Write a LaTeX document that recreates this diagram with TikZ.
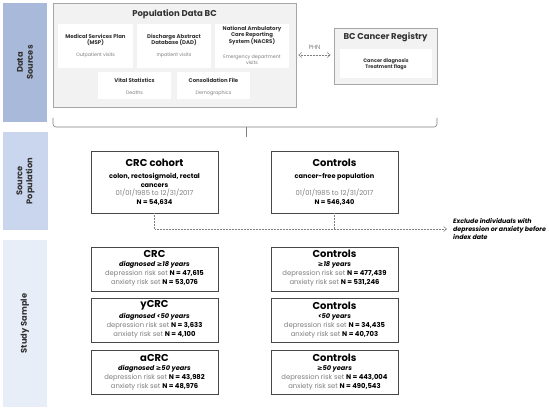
\documentclass[tikz,border=0pt]{standalone}
\usepackage{fontspec}
\setmainfont{Poppins}
\newfontfamily\symf{DejaVu Sans}
\usetikzlibrary{arrows.meta,calc}
\newcommand{\sge}{{\symf ≥}}
\definecolor{bandA}{HTML}{A9B9D9}
\definecolor{bandB}{HTML}{CAD6EE}
\definecolor{bandC}{HTML}{E8EEF8}
\definecolor{graytxt}{HTML}{7F7F7F}
\definecolor{boxgray}{HTML}{F2F2F2}
\definecolor{bordergray}{HTML}{A6A6A6}
\definecolor{darktxt}{HTML}{333333}
\tikzset{
  band/.style={fill=#1, draw=none, inner sep=0pt},
  bandlabel/.style={rotate=90, font=\bfseries\fontsize{8.3}{9.8}\selectfont, text=darktxt, align=center, inner sep=0pt},
  outerbox/.style={draw=bordergray, fill=boxgray, line width=0.8pt, inner sep=0pt},
  innerbox/.style={fill=white, draw=none, inner sep=0pt},
  ititle/.style={font=\bfseries\fontsize{5.4}{6.6}\selectfont, text=darktxt, align=center, inner sep=0pt},
  isub/.style={font=\fontsize{4.8}{6.2}\selectfont, text=graytxt, align=center, inner sep=0pt},
  bigtitle/.style={font=\bfseries\fontsize{8.5}{10}\selectfont, text=darktxt, inner sep=0pt},
  studybox/.style={draw=darktxt!90, fill=white, line width=0.8pt, inner sep=0pt},
  btitle/.style={font=\bfseries\fontsize{10}{11}\selectfont, text=black, inner sep=0pt},
  bline/.style={font=\fontsize{6.8}{7.5}\selectfont, text=graytxt, inner sep=0pt},
  bbold/.style={font=\bfseries\fontsize{6.6}{7.5}\selectfont, text=black, inner sep=0pt},
  bital/.style={font=\bfseries\itshape\fontsize{6.6}{7.5}\selectfont, text=black, inner sep=0pt},
  dotline/.style={draw=graytxt, densely dotted, line width=0.5pt},
  bracel/.style={draw=graytxt, line width=0.6pt},
}
% #1 name, #2 x, #3 y, #4 title, #5 sub, #6 dep, #7 anx
\newcommand{\mkbox}[7]{%
  \node[studybox, minimum width=127pt, minimum height=44pt] (#1) at (#2,#3) {};
  \node[btitle] (#1t) at ($(#1.center)+(0,-15)$) {#4};
  \node[bital] (#1s) at ($(#1.center)+(0,-4)$) {#5};
  \node[bline] (#1d) at ($(#1.center)+(0,5)$) {depression risk set \textbf{\textcolor{black}{N = #6}}};
  \node[bline] (#1a) at ($(#1.center)+(0,14)$) {anxiety risk set \textbf{\textcolor{black}{N = #7}}};
}
\begin{document}
\begin{tikzpicture}[x=1pt,y=-1pt]
\useasboundingbox (0,0) rectangle (550,411);
% bands
\node[band=bandA, minimum width=44pt, minimum height=119pt] (bDS) at (25,62.5) {};
\node[bandlabel] (lDS) at (bDS.center) {Data\\Sources};
\node[band=bandB, minimum width=45pt, minimum height=98pt] (bSP) at (25.5,181) {};
\node[bandlabel] (lSP) at (bSP.center) {Source\\Population};
\node[band=bandC, minimum width=44pt, minimum height=167pt] (bSS) at (25,323.5) {};
\node[bandlabel] (lSS) at (bSS.center) {Study Sample};
% Population Data BC
\node[outerbox, minimum width=243pt, minimum height=104pt] (pop) at (174.5,55) {};
\node[bigtitle] (popt) at (174.5,14) {Population Data BC};
\node[innerbox, minimum width=75pt, minimum height=44pt] (msp) at (95.5,46) {};
\node[ititle] (mspt) at (95.5,40) {Medical Services Plan\\(MSP)};
\node[isub] (msps) at (95.5,55) {Outpatient visits};
\node[innerbox, minimum width=74pt, minimum height=44pt] (dad) at (174,46) {};
\node[ititle] (dadt) at (174,40) {Discharge Abstract\\Database (DAD)};
\node[isub] (dads) at (174,55) {Inpatient visits};
\node[innerbox, minimum width=74pt, minimum height=44pt] (nac) at (252,46) {};
\node[ititle] (nact) at (252,35.5) {National Ambulatory\\Care Reporting\\System (NACRS)};
\node[isub] (nacs) at (252,60) {Emergency department\\visits};
\node[innerbox, minimum width=73pt, minimum height=27pt] (vit) at (134.5,85.5) {};
\node[ititle] (vitt) at (134.5,80) {Vital Statistics};
\node[isub] (vits) at (134.5,93) {Deaths};
\node[innerbox, minimum width=73pt, minimum height=27pt] (con) at (213.5,85.5) {};
\node[ititle] (cont) at (213.5,80) {Consolidation File};
\node[isub] (cons) at (213.5,93) {Demographics};
% BC Cancer Registry
\node[outerbox, minimum width=103pt, minimum height=56pt] (reg) at (385.5,56) {};
\node[bigtitle] (regt) at (385.5,37) {BC Cancer Registry};
\node[innerbox, minimum width=92pt, minimum height=29pt] (regi) at (386,63.5) {};
\node[ititle, font=\bfseries\fontsize{5}{6.2}\selectfont] (regs) at (386,64) {Cancer diagnosis\\Treatment flags};
% PHN arrow
\draw[dotline, {Straight Barb[length=3pt,width=5pt]}-{Straight Barb[length=3pt,width=5pt]}] ([xshift=2pt]pop.east) -- ([xshift=-3pt]pop.east -| reg.west);
\node[font=\fontsize{6}{7}\selectfont, text=graytxt, inner sep=0pt] (phn) at (314.5,47) {PHN};
% brace
\draw[bracel, rounded corners=3pt] (53,118) -- (53,127) -- (437,127) -- (437,118);
\coordinate (brtip) at (246,127);
\coordinate (brend) at (246,137);
\draw[bracel] (brtip) -- (brend);
% Source population
\node[studybox, minimum width=127pt, minimum height=62pt] (crc0) at (154.5,182) {};
\node[btitle] (crc0t) at (154.5,163) {CRC cohort};
\node[bbold, align=center, font=\bfseries\fontsize{6.6}{8.5}\selectfont] (crc0a) at (154.5,180.5) {colon, rectosigmoid, rectal\\cancers};
\node[bline] (crc0d) at (154.5,193) {01/01/1985 to 12/31/2017};
\node[bbold] (crc0n) at (154.5,202) {N = 54,634};
\node[studybox, minimum width=127pt, minimum height=62pt] (ctl0) at (334.5,182) {};
\node[btitle] (ctl0t) at (334.5,163) {Controls};
\node[bbold] (ctl0a) at (334.5,177) {cancer-free population};
\node[bline] (ctl0d) at (334.5,193) {01/01/1985 to 12/31/2017};
\node[bbold] (ctl0n) at (334.5,202) {N = 546,340};
% exclusion
\coordinate (exl) at (154.5,229);
\coordinate (exr) at (447,229);
\draw[dotline, -{Straight Barb[length=3pt,width=5pt]}] (crc0.south) -- (crc0.south |- exl) -- (exr);
\draw[dotline] (ctl0.south) -- (ctl0.south |- exl);
\node[bital, align=left, anchor=west, font=\bfseries\itshape\fontsize{6.3}{8}\selectfont] (excl) at (453,229) {Exclude individuals with\\depression or anxiety before\\index date};
% Study sample boxes
\mkbox{crc1}{154.5}{269}{CRC}{diagnosed \sge18 years}{47,615}{53,076}
\mkbox{crc2}{154.5}{320.5}{yCRC}{diagnosed <50 years}{3,633}{4,100}
\mkbox{crc3}{154.5}{372.5}{aCRC}{diagnosed \sge50 years}{43,982}{48,976}
\mkbox{ctl1}{334.5}{269}{Controls}{\sge18 years}{477,439}{531,246}
\mkbox{ctl2}{334.5}{320.5}{Controls}{<50 years}{34,435}{40,703}
\mkbox{ctl3}{334.5}{372.5}{Controls}{\sge50 years}{443,004}{490,543}
\end{tikzpicture}
\end{document}
